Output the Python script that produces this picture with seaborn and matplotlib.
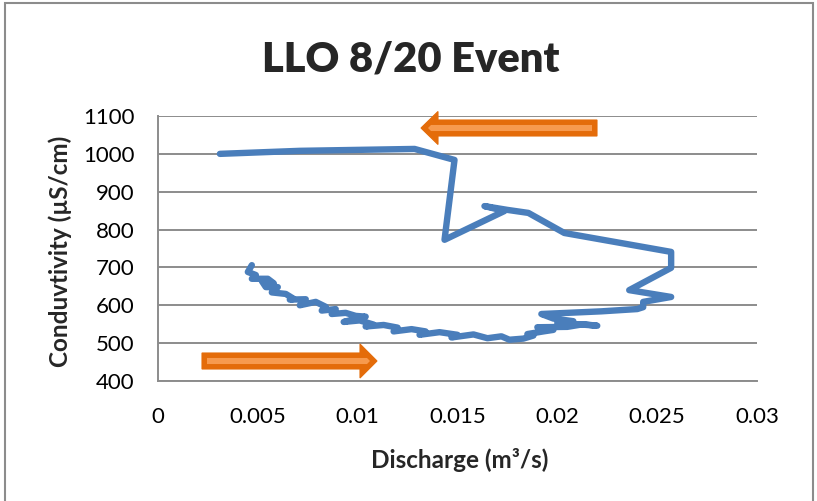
import matplotlib
matplotlib.use("Agg")
import matplotlib.pyplot as plt
from matplotlib.patches import Polygon, Rectangle
import seaborn as sns
import pandas as pd

# Storm event hysteresis: discharge vs. specific conductance, in time order
discharge = [0.0047, 0.0045, 0.0049, 0.0047, 0.0055, 0.0058, 0.0052, 0.0054,
             0.0060, 0.0057, 0.0064, 0.0068, 0.0066, 0.0074, 0.0071, 0.0079,
             0.0084, 0.0082, 0.0089, 0.0087, 0.0094, 0.0099, 0.0104, 0.0098,
             0.0093, 0.0101, 0.0108, 0.0104, 0.0113, 0.0120, 0.0118, 0.0127,
             0.0134, 0.0131, 0.0141, 0.0150, 0.0147, 0.0158, 0.0165, 0.0172,
             0.0176, 0.0183, 0.0188, 0.0185, 0.0193, 0.0198, 0.0190, 0.0205,
             0.0213, 0.0220, 0.0200, 0.0208, 0.0198, 0.0192, 0.0205, 0.0222,
             0.0240, 0.0243, 0.0243, 0.0257, 0.0236, 0.0257, 0.0257, 0.02035,
             0.01855, 0.0175, 0.01635, 0.01735, 0.01435, 0.01485, 0.01285,
             0.0071, 0.0031]
conductivity = [706, 688, 680, 670, 670, 658, 664, 648,
                648, 634, 630, 617, 615, 616, 600, 609,
                596, 586, 590, 577, 580, 572, 570, 563,
                556, 560, 549, 544, 548, 541, 531, 537,
                531, 522, 529, 522, 515, 523, 513, 518,
                509, 512, 520, 524, 531, 535, 542, 543,
                550, 546, 554, 558, 565, 577, 580, 584,
                590, 595, 609, 622, 640, 699, 741, 791,
                844, 852, 862, 849, 773, 984, 1013,
                1008, 1000]

x_ticks = [0, 0.005, 0.01, 0.015, 0.02, 0.025, 0.03]
x_tick_labels = ["0", "0.005", "0.01", "0.015", "0.02", "0.025", "0.03"]
y_ticks = [400, 500, 600, 700, 800, 900, 1000, 1100]

df = pd.DataFrame({"Discharge": discharge, "Conductivity": conductivity})

sns.set_theme(style="white")
plt.rcParams["font.family"] = ["Lato", "DejaVu Sans"]

W, H = 817, 501
fig = plt.figure(figsize=(W / 100, H / 100), dpi=100)
ax = fig.add_axes([158 / W, 1 - 381 / H, (757 - 158) / W, (381 - 116) / H])

sns.lineplot(data=df, x="Discharge", y="Conductivity", sort=False, estimator=None,
             color="#4A7EBB", linewidth=4.6, ax=ax,
             solid_capstyle="round", solid_joinstyle="round", zorder=3)

ax.set_xlim(0, 0.03)
ax.set_ylim(400, 1100)
ax.set_xticks(x_ticks)
ax.set_xticklabels(x_tick_labels)
ax.set_yticks(y_ticks)
ax.tick_params(axis="both", length=0, labelsize=16, colors="black")
ax.tick_params(axis="y", pad=17)
ax.tick_params(axis="x", pad=19)
ax.grid(axis="y", color="#8C8C8C", linewidth=1.4)
ax.grid(axis="x", visible=False)
for side in ["top", "right"]:
    ax.spines[side].set_visible(False)
for side in ["left", "bottom"]:
    ax.spines[side].set_color("#8C8C8C")
    ax.spines[side].set_linewidth(1.4)

ax.set_xlabel("Discharge (m³/s)", fontsize=17.5, fontweight="bold")
ax.set_ylabel("Conduvtivity (µS/cm)", fontsize=17.5, fontweight="bold")
ax.xaxis.label.set_va("center")
ax.yaxis.label.set_va("center")
ax.xaxis.set_label_coords((460 - 158) / 599, (381 - 460) / 265)
ax.yaxis.set_label_coords((60 - 158) / 599, 0.49)

fig.text(411 / W, 1 - 60 / H, "LLO 8/20 Event", ha="center", va="center",
         fontsize=30, fontweight="heavy")


def px(x, y):
    return (x / W, 1 - y / H)


def block_arrow(x_tail, x_tip, yc, shaft_h, head_h, head_len):
    d = 1 if x_tip > x_tail else -1
    xh = x_tip - d * head_len
    pts = [(x_tail, yc - shaft_h / 2), (xh, yc - shaft_h / 2), (xh, yc - head_h / 2),
           (x_tip, yc), (xh, yc + head_h / 2), (xh, yc + shaft_h / 2),
           (x_tail, yc + shaft_h / 2)]
    fig.patches.append(Polygon([px(*p) for p in pts], closed=True,
                               transform=fig.transFigure, facecolor="#E46C0A",
                               edgecolor="#E46C0A", linewidth=0.8, zorder=5))
    inner_h = shaft_h * 0.38
    x0 = x_tail + d * 5
    x1 = x_tip - d * 7
    inner = [(x0, yc - inner_h / 2), (x1 - d * 3, yc - inner_h / 2), (x1, yc),
             (x1 - d * 3, yc + inner_h / 2), (x0, yc + inner_h / 2)]
    fig.patches.append(Polygon([px(*p) for p in inner], closed=True,
                               transform=fig.transFigure, facecolor="#F79A4E",
                               edgecolor="none", zorder=6))


# rising limb (lower) and falling limb (upper) direction arrows
block_arrow(202, 377, 361, 16, 34, 17)
block_arrow(597, 421, 128, 16, 33, 17)

# chart area border
fig.patches.append(Rectangle(px(5, 540), (813 - 5) / W, (540 - 3) / H,
                             transform=fig.transFigure, fill=False,
                             edgecolor="#8C8C8C", linewidth=1.5, zorder=1))

fig.savefig("out.png", dpi=100)
